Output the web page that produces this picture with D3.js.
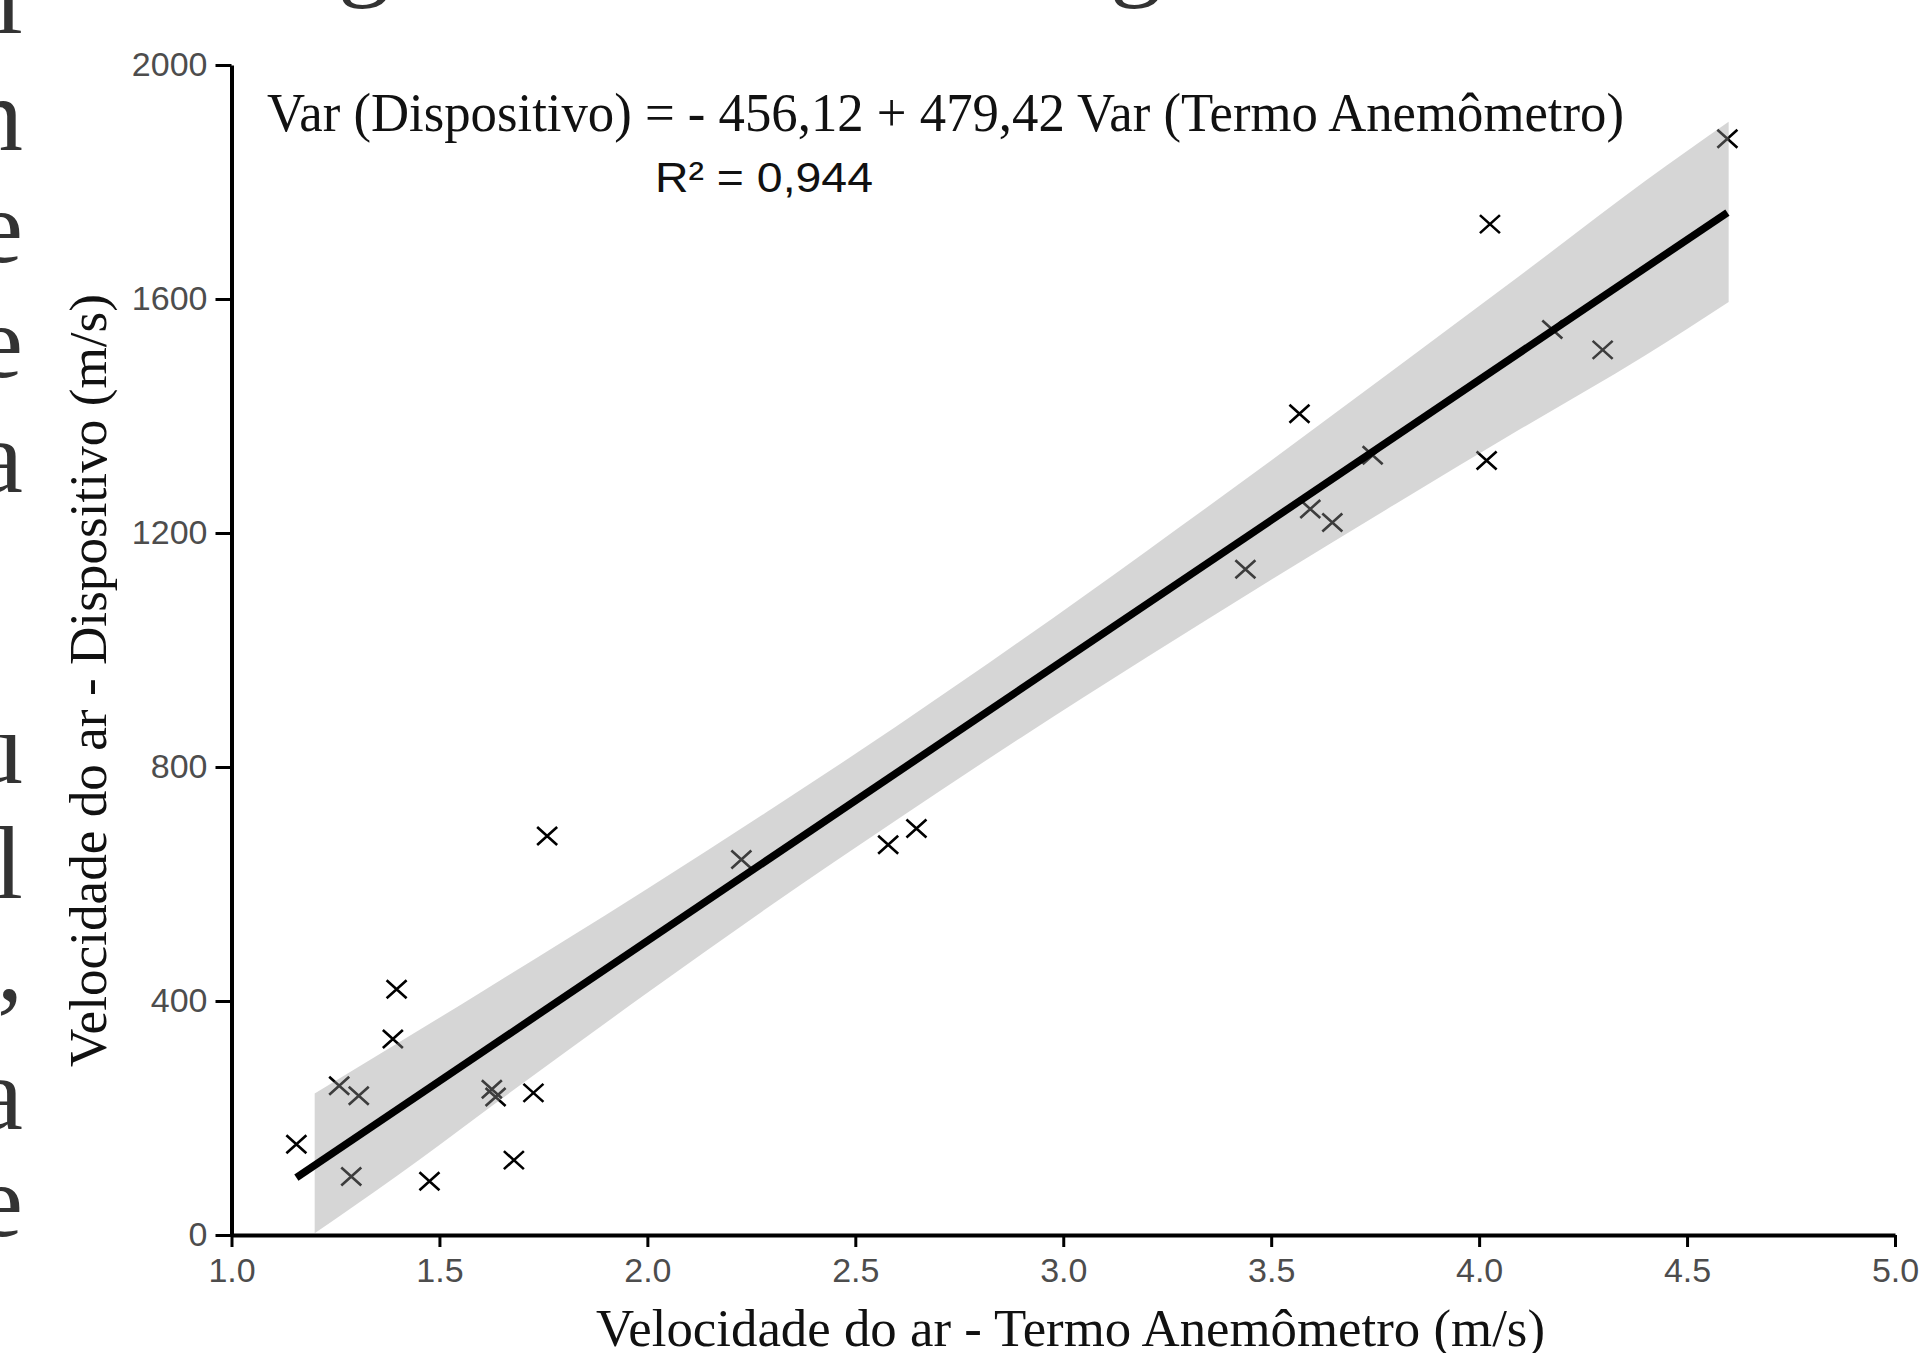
<!DOCTYPE html>
<html>
<head>
<meta charset="utf-8">
<script src="https://cdn.jsdelivr.net/npm/d3@7"></script>
<style>
  body { margin: 0; background: #fff; }
  svg { display: block; }
</style>
</head>
<body>
<svg id="chart" width="1919" height="1353"></svg>
<script>
// measured points (Termo Anemometro vs Dispositivo)
const pointsX = [1.156, 1.259, 1.306, 1.288, 1.388, 1.397, 1.476, 1.626, 1.635, 1.679, 1.726, 1.759,
  2.226, 2.579, 2.647, 3.438, 3.568, 3.594, 3.647, 3.744, 4.018, 4.026, 4.176, 4.297, 4.597];
const pointsY = [155, 255, 238, 100, 335, 420, 92, 249, 236, 128, 243, 682,
  642, 667, 695, 1138, 1404, 1241, 1218, 1333, 1324, 1728, 1548, 1513, 1874];

// fitted line, from the equation printed on the chart
const fitIntercept = -456.12;
const fitSlope = 479.42;

// confidence band
const bandX = [1.2, 1.4, 1.6, 1.8, 2.0, 2.3, 2.6, 2.9, 3.2, 3.5, 3.8, 4.1, 4.4, 4.6];
const bandUpper = [242, 328, 415, 503, 592, 729, 870, 1017, 1169, 1324, 1482, 1641, 1802, 1903];
const bandLower = [3, 102, 207, 311, 414, 565, 710, 851, 987, 1120, 1250, 1378, 1504, 1595];

const xTicks = [1.0, 1.5, 2.0, 2.5, 3.0, 3.5, 4.0, 4.5, 5.0];
const yTicks = [0, 400, 800, 1200, 1600, 2000];

const equationText = "Var (Dispositivo) = - 456,12 + 479,42 Var (Termo Anemômetro)";
const r2Text = "R² = 0,944";
const xTitle = "Velocidade do ar - Termo Anemômetro (m/s)";
const yTitle = "Velocidade do ar - Dispositivo (m/s)";

// page text cut off at the left edge and top of the scan
const sideLetters = ["l", "n", "e", "e", "a", "u", "l", ",", "a", "e"];
const sideBaselines = [33, 150, 262, 377, 492, 783, 898, 1000, 1129, 1236];
const topLetters = ["g", "g"];
const topLetterX = [364, 1136];

const svg = d3.select("#chart");
const sansFont = "'Liberation Sans', Arial, sans-serif";
const serifFont = "'Liberation Serif', 'Times New Roman', serif";

const xScale = d3.scaleLinear().domain([1, 5]).range([231.5, 1895]);
const yScale = d3.scaleLinear().domain([0, 2000]).range([1235, 65]);

// ---- cut-off page text ----
svg.append("g")
  .selectAll("text")
  .data(sideLetters)
  .join("text")
  .attr("x", 23)
  .attr("y", (d, i) => sideBaselines[i])
  .attr("text-anchor", "end")
  .attr("font-family", serifFont)
  .attr("font-size", 104)
  .attr("fill", "#333")
  .text(d => d);

svg.append("g")
  .selectAll("text")
  .data(topLetters)
  .join("text")
  .attr("x", (d, i) => topLetterX[i])
  .attr("y", -13)
  .attr("text-anchor", "middle")
  .attr("font-family", serifFont)
  .attr("font-size", 104)
  .attr("fill", "#333")
  .text(d => d);

// ---- points (drawn under the band, like ggplot) ----
const pts = pointsX.map((x, i) => ({ x, y: pointsY[i] }));
const hw = 10, hh = 9;

svg.append("g")
  .selectAll("path")
  .data(pts)
  .join("path")
  .attr("d", d => {
    const cx = xScale(d.x), cy = yScale(d.y);
    return `M${cx - hw},${cy - hh}L${cx + hw},${cy + hh}M${cx - hw},${cy + hh}L${cx + hw},${cy - hh}`;
  })
  .attr("stroke", "#000")
  .attr("stroke-width", 2.6)
  .attr("fill", "none");

// ---- band ----
const band = bandX.map((x, i) => ({ x, lo: bandLower[i], hi: bandUpper[i] }));
const area = d3.area()
  .x(d => xScale(d.x))
  .y0(d => yScale(d.lo))
  .y1(d => yScale(d.hi))
  .curve(d3.curveMonotoneX);

svg.append("path")
  .datum(band)
  .attr("d", area)
  .attr("fill", "#999999")
  .attr("fill-opacity", 0.4);

// ---- fit line ----
const [xmin, xmax] = d3.extent(pointsX);
const fitLine = [xmin, xmax].map(x => ({ x, y: fitIntercept + fitSlope * x }));

svg.append("path")
  .datum(fitLine)
  .attr("d", d3.line().x(d => xScale(d.x)).y(d => yScale(d.y)))
  .attr("stroke", "#000")
  .attr("stroke-width", 7.5)
  .attr("fill", "none");

// ---- axes ----
const gx = svg.append("g")
  .attr("transform", `translate(0, ${yScale(0)})`)
  .call(d3.axisBottom(xScale).tickValues(xTicks).tickFormat(d3.format(".1f"))
    .tickSize(12).tickSizeOuter(0).tickPadding(11));

const gy = svg.append("g")
  .attr("transform", `translate(${xScale(1)}, 0)`)
  .call(d3.axisLeft(yScale).tickValues(yTicks).tickFormat(d3.format("d"))
    .tickSize(16).tickSizeOuter(0).tickPadding(8));

[gx, gy].forEach(g => {
  g.select(".domain").attr("stroke", "#000").attr("stroke-width", 4);
  g.selectAll(".tick line").attr("stroke", "#000").attr("stroke-width", 3);
  g.selectAll(".tick text")
    .attr("fill", "#4d4d4d")
    .attr("font-family", sansFont)
    .attr("font-size", 34);
});

// ---- annotations ----
svg.append("text")
  .attr("x", 267)
  .attr("y", 131)
  .attr("font-family", serifFont)
  .attr("font-size", 54)
  .attr("fill", "#111")
  .attr("textLength", 1357)
  .attr("lengthAdjust", "spacingAndGlyphs")
  .text(equationText);

svg.append("text")
  .attr("x", 655)
  .attr("y", 192)
  .attr("font-family", sansFont)
  .attr("font-size", 42)
  .attr("fill", "#111")
  .attr("textLength", 218)
  .attr("lengthAdjust", "spacingAndGlyphs")
  .text(r2Text);

// ---- axis titles ----
svg.append("text")
  .attr("x", 596)
  .attr("y", 1346)
  .attr("font-family", serifFont)
  .attr("font-size", 52)
  .attr("fill", "#111")
  .attr("textLength", 949)
  .attr("lengthAdjust", "spacingAndGlyphs")
  .text(xTitle);

svg.append("text")
  .attr("transform", "translate(106, 1067) rotate(-90)")
  .attr("font-family", serifFont)
  .attr("font-size", 52)
  .attr("fill", "#111")
  .attr("textLength", 773)
  .attr("lengthAdjust", "spacingAndGlyphs")
  .text(yTitle);
</script>
</body>
</html>
